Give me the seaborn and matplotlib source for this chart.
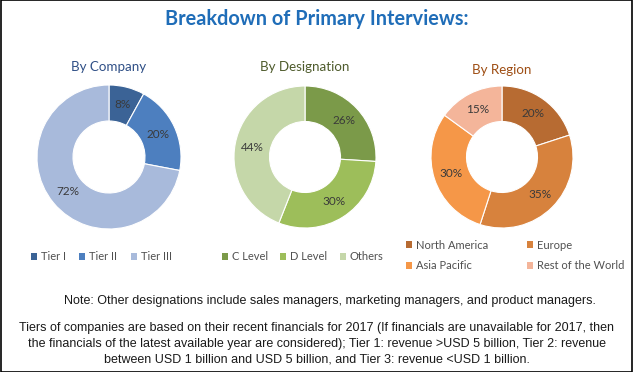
import matplotlib
matplotlib.use("Agg")
import matplotlib.pyplot as plt
import seaborn as sns
from matplotlib.patches import Patch

# data
company_labels = ["Tier I", "Tier II", "Tier III"]
company_values = [8, 20, 72]
company_colors = ["#3B6396", "#4D7FBF", "#A8BADB"]

designation_labels = ["C Level", "D Level", "Others"]
designation_values = [26, 30, 44]
designation_colors = ["#7B9A49", "#9DBE5A", "#C5D7A9"]

region_labels = ["North America", "Europe", "Asia Pacific", "Rest of the World"]
region_values = [20, 35, 30, 15]
region_colors = ["#B76B32", "#D7823D", "#F59748", "#F4B59A"]

note_text = "Note: Other designations include sales managers, marketing managers, and product managers."
tier_text = ("Tiers of companies are based on their recent financials for 2017 (If financials are unavailable for 2017, then\n"
             "the financials of the latest available year are considered); Tier 1: revenue >USD 5 billion, Tier 2: revenue\n"
             "between USD 1 billion and USD 5 billion, and Tier 3: revenue <USD 1 billion.")

sns.set_theme(style="white")
plt.rcParams["font.family"] = ["Lato", "DejaVu Sans"]

W, H = 633, 372
fig = plt.figure(figsize=(W / 100, H / 100), dpi=100)
fig.patch.set_facecolor("white")


def donut(cx, cy, r, values, colors, title, title_color, title_y):
    ax = fig.add_axes([(cx - r) / W, 1 - (cy + r) / H, 2 * r / W, 2 * r / H])
    ax.pie(values, colors=colors, startangle=90, counterclock=False,
           radius=1, wedgeprops=dict(width=0.5, edgecolor="white", linewidth=0.8),
           autopct="%d%%", pctdistance=0.75,
           textprops=dict(fontsize=8.5, color="#3a3a3a"))
    ax.set_xlim(-1, 1)
    ax.set_ylim(-1, 1)
    ax.axis("off")
    fig.text(cx / W, 1 - title_y / H, title, ha="center", va="center",
             fontsize=9.6, color=title_color)
    return ax


donut(109, 157, 72, company_values, company_colors, "By Company", "#2F4F86", 67)
donut(305, 157, 71, designation_values, designation_colors, "By Designation", "#4E5B2C", 67)
donut(502, 157, 71, region_values, region_colors, "By Region", "#9E4E14", 70)

fig.text(0.5, 1 - 19 / H, "Breakdown of Primary Interviews:", ha="center", va="center",
         fontsize=14.3, fontweight="bold", color="#1F6DB8")


def legend(x, y, labels, colors, ncol, colsp, order=None):
    handles = [Patch(facecolor=c, edgecolor="none") for c in colors]
    if order is not None:
        handles = [handles[i] for i in order]
        labels = [labels[i] for i in order]
    fig.legend(handles, labels, loc="center left", bbox_to_anchor=(x / W, 1 - y / H),
               ncol=ncol, frameon=False, fontsize=8, handlelength=0.55, handleheight=0.6,
               handletextpad=0.35, columnspacing=colsp, labelspacing=0.85,
               labelcolor="#505050", borderaxespad=0, borderpad=0)


legend(31, 257, company_labels, company_colors, 3, 1.2)
legend(222, 257, designation_labels, designation_colors, 3, 1.1)
# reference fills the region legend row by row
legend(406, 255.5, region_labels, region_colors, 2, 3.5, order=[0, 2, 1, 3])

fig.text(330 / W, 1 - 301 / H, note_text, ha="center", va="center",
         fontsize=9, family="Liberation Sans", color="#1a1a1a")
fig.text(0.5, 1 - 343.5 / H, tier_text, ha="center", va="center",
         fontsize=9, family="Liberation Sans", color="#1a1a1a", linespacing=1.42)

# outer frame
frame = plt.Rectangle((0.0008, 0.0013), 0.9984, 0.9974, transform=fig.transFigure,
                      fill=False, edgecolor="black", linewidth=1.2)
fig.patches.append(frame)

fig.savefig("out.png", dpi=100)
